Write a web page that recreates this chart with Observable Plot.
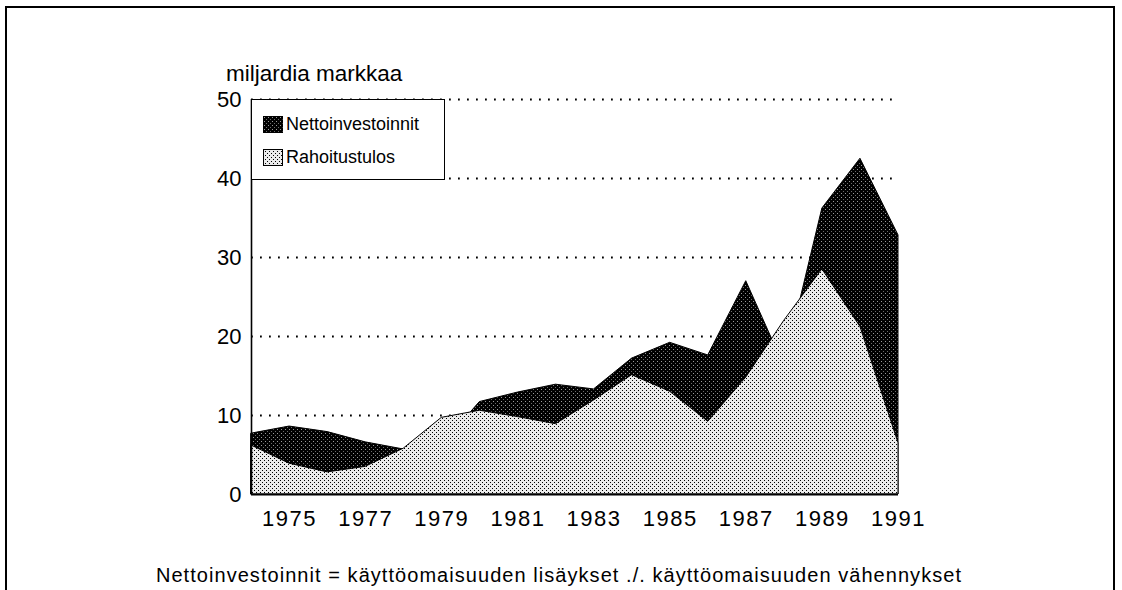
<!DOCTYPE html>
<html><head><meta charset="utf-8">
<script src="https://cdn.jsdelivr.net/npm/d3@7"></script>
<script src="https://cdn.jsdelivr.net/npm/@observablehq/plot@0.6"></script>
<style>
html,body{margin:0;padding:0;background:#fff;}
body{font-family:"Liberation Sans",Arial,Helvetica,sans-serif;color:#000;}
#wrap{position:relative;width:1122px;height:590px;overflow:hidden;background:#fff;}
#frame{position:absolute;left:5px;top:6px;width:1110px;height:640px;border:2px solid #000;box-sizing:border-box;}
#chart{position:absolute;left:0;top:0;}
#title{position:absolute;left:226px;top:63px;font-size:22.5px;line-height:22px;white-space:nowrap;}
#legend{position:absolute;left:251px;top:99px;width:194px;height:81px;box-sizing:border-box;border:1.5px solid #000;background:#fff;}
.item{position:absolute;left:11px;display:flex;align-items:flex-end;font-size:18px;line-height:18px;white-space:nowrap;}
.item svg{margin-right:3px;display:block;}
#caption{position:absolute;left:0;width:1118px;text-align:center;top:565px;font-size:20px;line-height:20px;letter-spacing:1.05px;white-space:nowrap;}
#chart g[aria-label="x-axis tick label"] text{letter-spacing:1.5px;}
</style>
</head><body>
<svg width="0" height="0" style="position:absolute">
  <defs>
    <pattern id="darkPat" patternUnits="userSpaceOnUse" width="4" height="4">
      <rect width="4" height="4" fill="#000"/>
      <rect x="1" y="1" width="1" height="1" fill="#9a9a9a"/>
      <rect x="3" y="3" width="1" height="1" fill="#6a6a6a"/>
    </pattern>
    <pattern id="lightPat" patternUnits="userSpaceOnUse" width="4" height="4">
      <rect width="4" height="4" fill="#ebebeb"/>
      <rect x="0" y="0" width="1" height="1" fill="#000"/>
      <rect x="2" y="2" width="1" height="1" fill="#000"/>
    </pattern>
  </defs>
</svg>
<div id="wrap">
  <div id="frame"></div>
  <div id="chart"></div>
  <div id="title">miljardia markkaa</div>
  <div id="legend">
    <div class="item" style="top:15px"><svg width="20" height="17"><rect width="20" height="17" fill="url(#darkPat)" stroke="#000" stroke-width="1"/></svg><span>Nettoinvestoinnit</span></div>
    <div class="item" style="top:48px"><svg width="20" height="17"><rect x="0.5" y="0.5" width="19" height="16" fill="url(#lightPat)" stroke="#000" stroke-width="1"/></svg><span>Rahoitustulos</span></div>
  </div>
  <div id="caption">Nettoinvestoinnit = käyttöomaisuuden lisäykset ./. käyttöomaisuuden vähennykset</div>
</div>
<script>
const years = [1974,1975,1976,1977,1978,1979,1980,1981,1982,1983,1984,1985,1986,1987,1988,1989,1990,1991];
const nettoinvestoinnit = [7.7,8.6,7.9,6.6,5.7,6.2,11.7,12.9,13.9,13.3,17.2,19.2,17.6,27.0,16.2,36.2,42.5,32.8];
const rahoitustulos = [6.2,3.9,2.8,3.5,5.8,9.7,10.6,9.8,8.9,11.9,15.1,13.0,9.2,14.8,22.0,28.5,21.2,6.5];
const xTicks = [1975,1977,1979,1981,1983,1985,1987,1989,1991];
const yTicks = [0,10,20,30,40,50];
const gridValues = [10,20,30,40,50];

const data = years.map((y,i)=>({year:y, netto:nettoinvestoinnit[i], rahoitus:rahoitustulos[i]}));

const chart = Plot.plot({
  width:1122, height:590,
  marginLeft:251, marginRight:224, marginTop:99, marginBottom:96,
  style:{fontFamily:'"Liberation Sans",Arial,sans-serif', fontSize:"22px", color:"#000", background:"transparent", overflow:"visible"},
  x:{domain:[1974,1991], label:null},
  y:{domain:[0,50], label:null},
  marks:[
    Plot.ruleY(gridValues, {stroke:"#000", strokeWidth:1.8, strokeDasharray:"1.8,7.2"}),
    Plot.areaY(data, {x:"year", y:"netto", fill:"url(#darkPat)", stroke:"#000", strokeWidth:1}),
    Plot.areaY(data, {x:"year", y:"rahoitus", fill:"url(#lightPat)", stroke:"#000", strokeWidth:1}),
    Plot.ruleX([years[0]], {stroke:"#000", strokeWidth:1.6}),
    Plot.ruleY([0], {stroke:"#000", strokeWidth:2}),
    Plot.axisX({ticks:xTicks, tickFormat:d=>String(d), tickSize:0, tickPadding:16, fontSize:22}),
    Plot.axisY({ticks:yTicks, tickSize:0, tickPadding:10, fontSize:22})
  ]
});
document.getElementById("chart").appendChild(chart);
</script>
</body></html>
